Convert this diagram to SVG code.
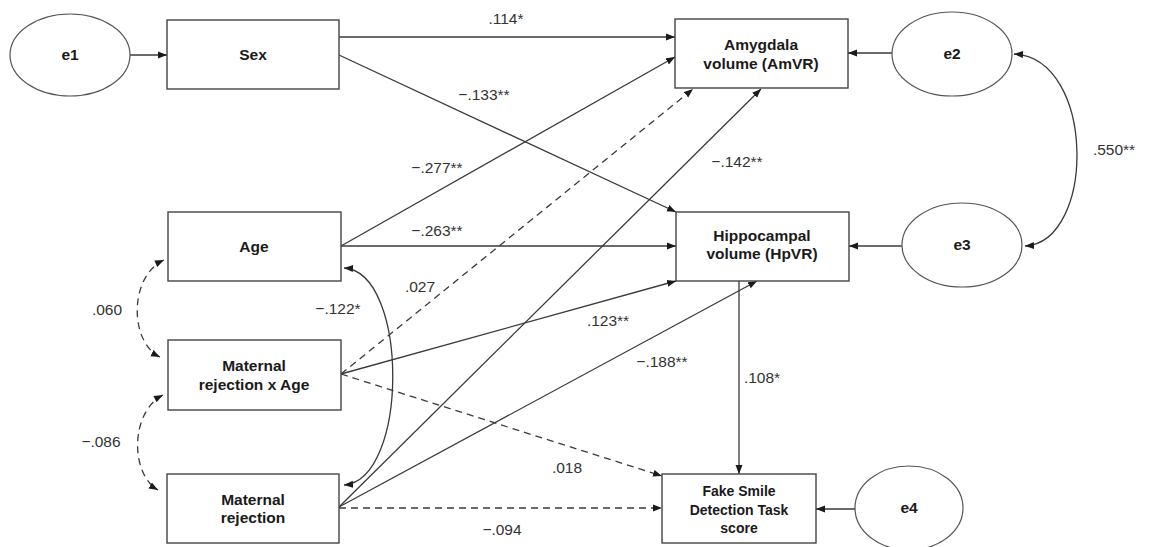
<svg xmlns="http://www.w3.org/2000/svg" width="1149" height="547" viewBox="0 0 1149 547">
  <style>
    .box { fill: #ffffff; stroke: #444444; stroke-width: 1.4; }
    .err { fill: #ffffff; stroke: #555555; stroke-width: 1.2; }
    .name { font-family: "Liberation Sans", Arial, sans-serif; font-size: 15.5px; font-weight: bold; fill: #1a1a1a; text-anchor: middle; }
    .small { font-size: 14px; }
    .coef { font-family: "Liberation Sans", Arial, sans-serif; font-size: 15.5px; fill: #333333; text-anchor: middle; }
    .path { fill: none; stroke: #3a3a3a; stroke-width: 1.3; marker-end: url(#head); }
    .dash { stroke-dasharray: 7 5; }
    .both { marker-start: url(#tail); }
  </style>
  <defs>
    <marker id="head" markerUnits="userSpaceOnUse" markerWidth="10" markerHeight="8" refX="9" refY="4" orient="auto">
      <path d="M0,0.5 L9,4 L0,7.5 Z" fill="#1a1a1a" stroke="none"/>
    </marker>
    <marker id="tail" markerUnits="userSpaceOnUse" markerWidth="10" markerHeight="8" refX="0" refY="4" orient="auto">
      <path d="M9,0.5 L0,4 L9,7.5 Z" fill="#1a1a1a" stroke="none"/>
    </marker>
  </defs>

  <rect width="1149" height="547" fill="#ffffff"/>

  <!-- paths, covariances and their coefficients -->
  <g id="connectors">
    <!-- error terms -->
    <line class="path" x1="130" y1="55" x2="167" y2="55"/>
    <line class="path" x1="892" y1="53" x2="848" y2="53"/>
    <line class="path" x1="902" y1="246" x2="849" y2="246"/>
    <line class="path" x1="855" y1="509" x2="816" y2="509"/>

    <!-- Sex -->
    <line class="path" x1="339" y1="37" x2="675" y2="37"/>
    <line class="path" x1="339" y1="55" x2="676" y2="212"/>

    <!-- Age -->
    <line class="path" x1="341" y1="246" x2="675" y2="57"/>
    <line class="path" x1="341" y1="246" x2="676" y2="246"/>

    <!-- Maternal rejection x Age -->
    <line class="path dash" x1="341" y1="374" x2="693" y2="89"/>
    <line class="path" x1="341" y1="374" x2="676" y2="281"/>
    <line class="path dash" x1="341" y1="374" x2="662" y2="476"/>

    <!-- Maternal rejection -->
    <line class="path" x1="339" y1="507" x2="761" y2="89"/>
    <line class="path" x1="339" y1="507" x2="757" y2="281"/>
    <line class="path dash" x1="339" y1="508" x2="662" y2="508"/>

    <!-- Hippocampal volume to task score -->
    <line class="path" x1="739" y1="281" x2="739" y2="474"/>

    <!-- covariances -->
    <path class="path both dash" d="M164,260 C129,276 129,342 160,357"/>
    <path class="path both dash" d="M163,395 C130,412 130,474 158,490"/>
    <path class="path both" d="M344,268 C409,272 409,480 344,485"/>
    <path class="path both" d="M1014,54 C1096,58 1096,242 1025,246"/>

    <text class="coef" x="506" y="24">.114*</text>
    <text class="coef" x="484" y="100">−.133**</text>
    <text class="coef" x="437" y="173">−.277**</text>
    <text class="coef" x="437" y="236">−.263**</text>
    <text class="coef" x="420" y="292">.027</text>
    <text class="coef" x="338" y="314">−.122*</text>
    <text class="coef" x="608" y="326">.123**</text>
    <text class="coef" x="737" y="167">−.142**</text>
    <text class="coef" x="662" y="367">−.188**</text>
    <text class="coef" x="762" y="383">.108*</text>
    <text class="coef" x="567" y="473">.018</text>
    <text class="coef" x="502" y="535">−.094</text>
    <text class="coef" x="107" y="315">.060</text>
    <text class="coef" x="101" y="447">−.086</text>
    <text class="coef" x="1114" y="155">.550**</text>
  </g>

  <!-- observed variables -->
  <g id="sex">
    <rect class="box" x="167" y="20" width="172" height="69"/>
    <text class="name" x="253" y="60">Sex</text>
  </g>
  <g id="age">
    <rect class="box" x="168" y="212" width="173" height="69"/>
    <text class="name" x="254" y="252">Age</text>
  </g>
  <g id="rejection-x-age">
    <rect class="box" x="168" y="340" width="173" height="70"/>
    <text class="name" x="254" y="371">Maternal</text>
    <text class="name" x="254" y="390">rejection x Age</text>
  </g>
  <g id="rejection">
    <rect class="box" x="167" y="474" width="172" height="69"/>
    <text class="name" x="253" y="505">Maternal</text>
    <text class="name" x="253" y="523">rejection</text>
  </g>
  <g id="amygdala">
    <rect class="box" x="675" y="19" width="173" height="69"/>
    <text class="name" x="761" y="50">Amygdala</text>
    <text class="name" x="761" y="69">volume (AmVR)</text>
  </g>
  <g id="hippocampal">
    <rect class="box" x="676" y="212" width="173" height="69"/>
    <text class="name" x="762" y="241">Hippocampal</text>
    <text class="name" x="762" y="259">volume (HpVR)</text>
  </g>
  <g id="fake-smile">
    <rect class="box" x="662" y="474" width="154" height="69"/>
    <text class="name small" x="739" y="496">Fake Smile</text>
    <text class="name small" x="739" y="515">Detection Task</text>
    <text class="name small" x="739" y="533">score</text>
  </g>

  <!-- residuals -->
  <g id="e1">
    <ellipse class="err" cx="70" cy="55" rx="60" ry="41"/>
    <text class="name" x="70" y="60">e1</text>
  </g>
  <g id="e2">
    <ellipse class="err" cx="952" cy="54" rx="60" ry="42"/>
    <text class="name" x="952" y="59">e2</text>
  </g>
  <g id="e3">
    <ellipse class="err" cx="962" cy="245" rx="60" ry="42"/>
    <text class="name" x="962" y="250">e3</text>
  </g>
  <g id="e4">
    <ellipse class="err" cx="909" cy="508" rx="54" ry="42"/>
    <text class="name" x="909" y="513">e4</text>
  </g>
</svg>
